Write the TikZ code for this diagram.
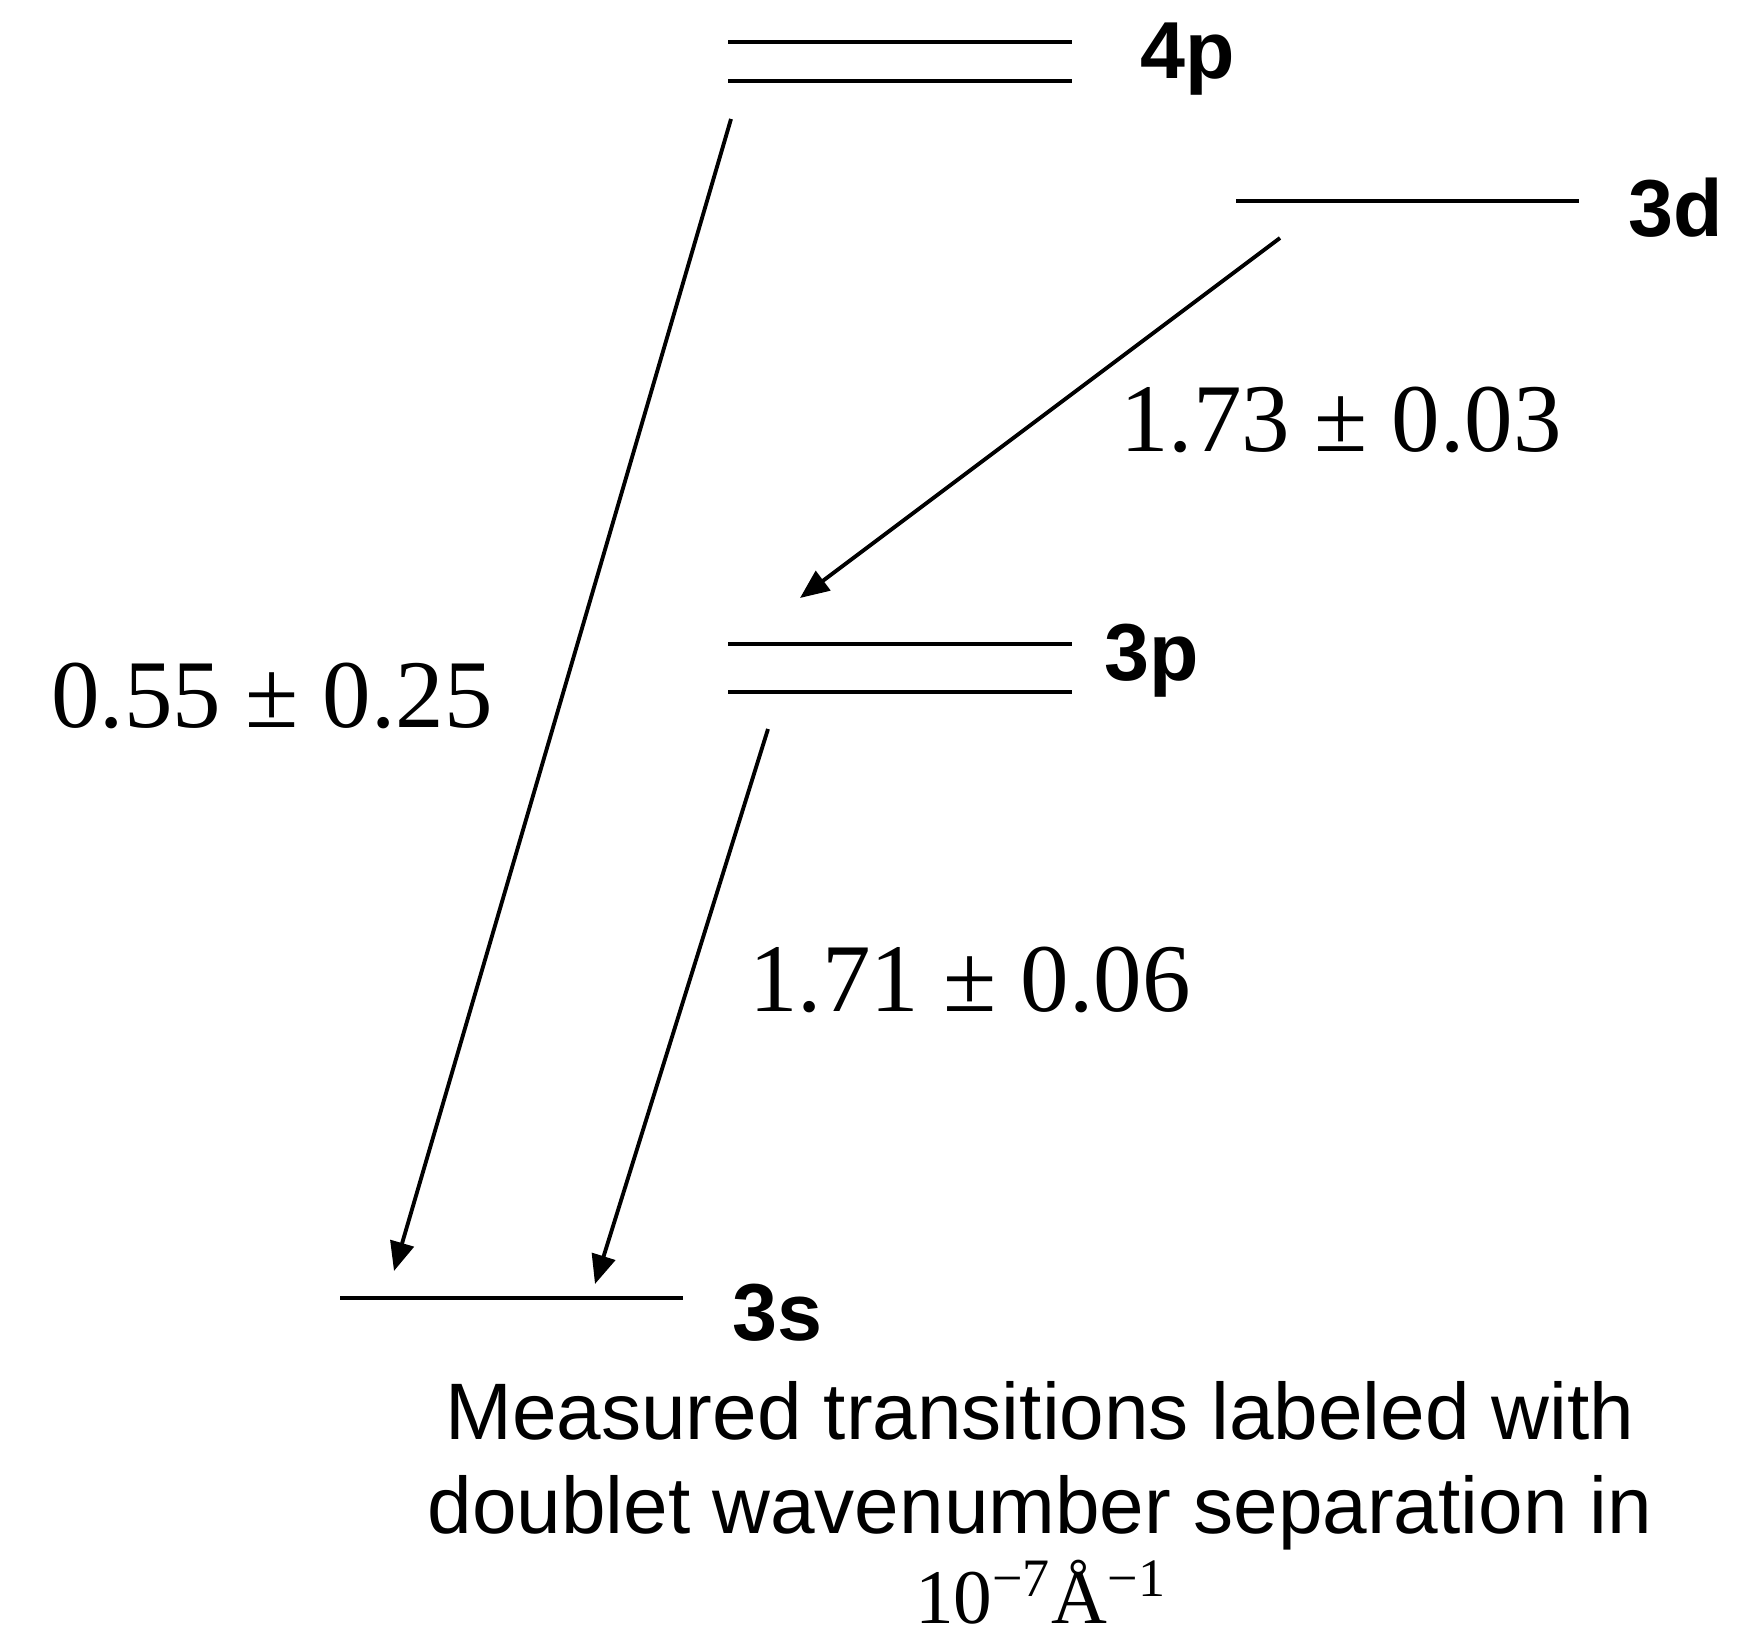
\documentclass[tikz,border=0pt]{standalone}
\usepackage{fontspec}
\setmainfont{Liberation Serif}
\setsansfont{Liberation Sans}
\usepackage{tikz}
\usetikzlibrary{arrows.meta,positioning}

\begin{document}
\begin{tikzpicture}[x=1cm,y=1cm,
    level/.style={line width=1.4pt},
    trans/.style={-{Triangle[length=0.29cm,width=0.24cm]},line width=1.1pt},
    lvlname/.style={anchor=base west,inner sep=0pt,font=\sffamily\bfseries\fontsize{23}{27}\selectfont},
    sepval/.style={anchor=base,inner sep=0pt,font=\fontsize{27.6}{32}\selectfont},
    capline/.style={anchor=base,inner sep=0pt,font=\sffamily\fontsize{22.8}{27}\selectfont}]
  \useasboundingbox (0,0) rectangle (17.49,16.39);
  % levels
  \draw[level] (7.28,15.97) -- (10.72,15.97);
  \draw[level] (7.28,15.58) -- (10.72,15.58);
  \draw[level] (12.36,14.38) -- (15.79,14.38);
  \draw[level] (7.28,9.95) -- (10.72,9.95);
  \draw[level] (7.28,9.47) -- (10.72,9.47);
  \draw[level] (3.40,3.41) -- (6.83,3.41);
  \node[lvlname] (n4p) at (11.40,15.60) {4p};
  \node[lvlname] (n3d) at (16.28,14.02) {3d};
  \node[lvlname] (n3p) at (11.04,9.58) {3p};
  \node[lvlname] (n3s) at (7.32,2.99) {3s};
  % transitions
  \coordinate (from4p) at (7.31,15.20);
  \coordinate (from3d) at (12.80,14.01);
  \coordinate (from3p) at (7.68,9.10);
  \coordinate (to3p) at (8.00,10.41);
  \coordinate (to3sa) at (3.94,3.68);
  \coordinate (to3sb) at (5.95,3.55);
  \draw[trans] (from4p) -- (to3sa);
  \draw[trans] (from3d) -- (to3p);
  \draw[trans] (from3p) -- (to3sb);
  \node[sepval] (v4p) at (2.72,9.11) {0.55 ± 0.25};
  \node[sepval] (v3d) at (13.41,11.87) {1.73 ± 0.03};
  \node[sepval] (v3p) at (9.70,6.27) {1.71 ± 0.06};
  % caption
  \node[capline] (cap1) at (10.40,2.00) {Measured transitions labeled with};
  \node[capline] (cap2) at (10.40,1.06) {doublet wavenumber separation in};
  \node[anchor=base,inner sep=0pt,font=\fontsize{22}{26}\selectfont] (cap3) at (10.41,0.16)
    {10\textsuperscript{−7}Å\textsuperscript{−1}};
\end{tikzpicture}
\end{document}
